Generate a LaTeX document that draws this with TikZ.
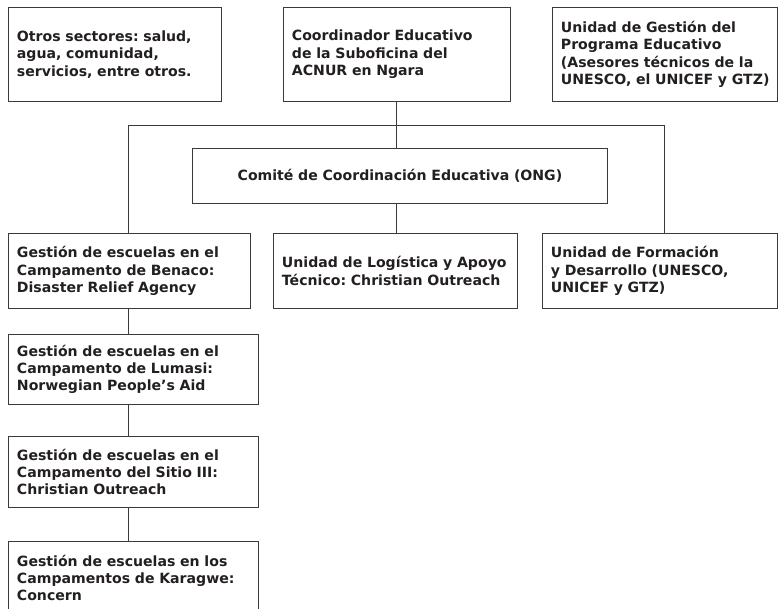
\documentclass[tikz,border=0pt]{standalone}
\usepackage{fontspec}
\setmainfont{DejaVu Sans}
\frenchspacing
\definecolor{ink}{HTML}{231F20}
\definecolor{rule}{HTML}{3A3A3A}
\newcommand{\oneline}[1]{\mbox{#1}}
\begin{document}
\begin{tikzpicture}[x=1pt,y=-1pt,
  box/.style={draw=rule, line width=0.9pt, anchor=north west, inner xsep=8.5pt, inner ysep=0pt,
    align=left, text=ink, font=\bfseries\fontsize{14.1}{17.3}\selectfont},
  conn/.style={draw=rule, line width=0.9pt}]
\useasboundingbox (0,0) rectangle (778,609);
\node[box, text width=196pt, minimum height=94pt] (otros) at (8,7) {\oneline{Otros sectores: salud,}\\\oneline{agua, comunidad,}\\\oneline{servicios, entre otros.}};
\node[box, text width=210pt, minimum height=94pt] (coord) at (283,7) {\oneline{Coordinador Educativo}\\\oneline{de la Suboficina del}\\\oneline{ACNUR en Ngara}};
\node[box, text width=208pt, minimum height=94pt] (ugpe) at (552,7) {\oneline{Unidad de Gestión del}\\\oneline{Programa Educativo}\\\oneline{(Asesores técnicos de la}\\\oneline{UNESCO, el UNICEF y GTZ)}};
\node[box, text width=398pt, minimum height=55pt, align=center] (comite) at (192,148) {Comité de Coordinación Educativa (ONG)};
\node[box, text width=225pt, minimum height=75pt] (benaco) at (8,233) {\oneline{Gestión de escuelas en el}\\\oneline{Campamento de Benaco:}\\\oneline{Disaster Relief Agency}};
\node[box, text width=227pt, minimum height=75pt] (logis) at (273,233) {\oneline{Unidad de Logística y Apoyo}\\\oneline{Técnico: Christian Outreach}};
\node[box, text width=218pt, minimum height=75pt] (form) at (542,233) {\oneline{Unidad de Formación}\\\oneline{y Desarrollo (UNESCO,}\\\oneline{UNICEF y GTZ)}};
\node[box, text width=233pt, minimum height=70pt] (lumasi) at (8,334) {\oneline{Gestión de escuelas en el}\\\oneline{Campamento de Lumasi:}\\\oneline{Norwegian People’s Aid}};
\node[box, text width=233pt, minimum height=71pt] (sitio) at (8,436) {\oneline{Gestión de escuelas en el}\\\oneline{Campamento del Sitio III:}\\\oneline{Christian Outreach}};
\node[box, text width=233pt, minimum height=73pt] (kara) at (8,541) {\oneline{Gestión de escuelas en los}\\\oneline{Campamentos de Karagwe:}\\\oneline{Concern}};
\coordinate (L) at (128,125);
\coordinate (R) at (664,125);
\coordinate (C) at (396,125);
\draw[conn] (C |- coord.south) -- (C |- comite.north);
\draw[conn] (L |- benaco.north) -- (L) -- (R) -- (R |- form.north);
\draw[conn] (C |- comite.south) -- (C |- logis.north);
\draw[conn] (L |- benaco.south) -- (L |- lumasi.north);
\draw[conn] (L |- lumasi.south) -- (L |- sitio.north);
\draw[conn] (L |- sitio.south) -- (L |- kara.north);
\end{tikzpicture}
\end{document}
